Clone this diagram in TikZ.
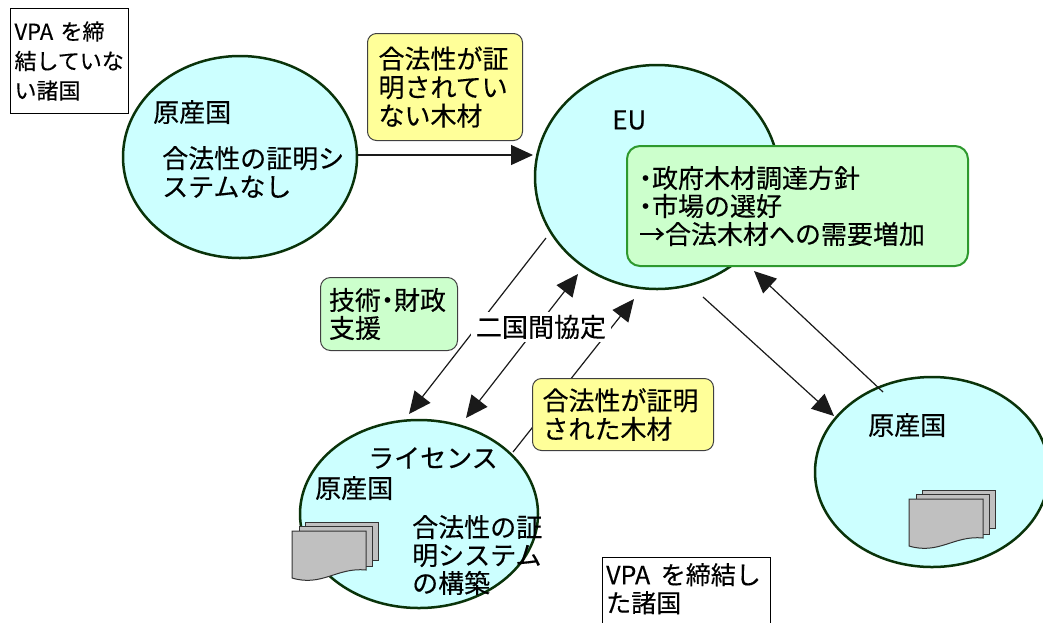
\documentclass[tikz,border=0pt]{standalone}
\usepackage{fontspec}
\setmainfont{Noto Sans CJK JP}[FakeBold=0.3]
\usetikzlibrary{shapes.geometric,arrows.meta}
\definecolor{ellfill}{HTML}{CCFFFF}
\definecolor{ellborder}{HTML}{0A330A}
\definecolor{yfill}{HTML}{FFFF99}
\definecolor{boxgray}{HTML}{404040}
\definecolor{gfill}{HTML}{CCFFCC}
\definecolor{gborder}{HTML}{2E992E}
\definecolor{arrcol}{HTML}{1A1A1A}
\definecolor{docgray}{HTML}{C0C0C0}
\definecolor{docborder}{HTML}{333333}
\tikzset{
  country/.style={ellipse, draw=ellborder, fill=ellfill, line width=2.5pt, inner sep=0pt},
  txt/.style={font=\fontsize{26pt}{28.5pt}\selectfont, inner sep=0pt, align=left},
  ybox/.style={draw=boxgray, fill=yfill, rounded corners=9pt, line width=1pt,
    font=\fontsize{26pt}{28.5pt}\selectfont, align=left, inner ysep=0pt},
  gbox/.style={draw=gborder, fill=gfill, rounded corners=13pt, line width=2pt,
    font=\fontsize{26pt}{28pt}\selectfont, align=left, inner ysep=0pt},
  tbox/.style={draw=boxgray, fill=gfill, rounded corners=10pt, line width=1pt,
    font=\fontsize{26pt}{28pt}\selectfont, align=left, inner ysep=0pt},
  plainbox/.style={draw=black, fill=white, line width=1pt},
  arr/.style={draw=arrcol, line width=1.2pt, -{Triangle[length=22pt,width=20pt]}},
  darr/.style={draw=arrcol, line width=1.2pt, {Triangle[length=22pt,width=20pt]}-{Triangle[length=22pt,width=20pt]}},
  docsheet/.style={fill=docgray, draw=docborder, line width=1pt},
  docs/.pic={
    \path[docsheet] (13,-9) rectangle (86,29);
    \path[docsheet] (7,-5) rectangle (80,35);
    \path[docsheet] (0,0) -- (74,0) -- (74,39) .. controls (45,36) and (30,56) .. (0,47) -- cycle;
  }
}
\newcommand{\ndot}{\makebox[13pt]{・}}
\begin{document}
\begin{tikzpicture}[x=1pt,y=-1pt]
\clip (0,0) rectangle (1043,622);
\fill[white] (0,0) rectangle (1043,622);

% ellipses
\node[country, minimum width=234pt, minimum height=202pt] (src) at (240,157) {};
\node[country, minimum width=244pt, minimum height=224pt] (eu) at (657,177) {};
\node[country, minimum width=238pt, minimum height=188pt] (lic) at (419,514) {};
\node[country, minimum width=234pt, minimum height=190pt] (rgt) at (932,472) {};

% arrows
\draw[arr] ([shift={(117,-2)}]src.center) -- ([shift={(-124,-22)}]eu.center);
\draw[arr] ([shift={(-111,61)}]eu.center) -- ([shift={(-10,-100)}]lic.center);
\draw[darr] ([shift={(47,-96)}]lic.center) -- ([shift={(-79,97)}]eu.center);
\draw[arr] ([shift={(94,-62)}]lic.center) -- ([shift={(-23,122)}]eu.center);
\draw[arr] ([shift={(46,120)}]eu.center) -- ([shift={(-98,-56)}]rgt.center);
\draw[arr] ([shift={(-49,-80)}]rgt.center) -- ([shift={(97,94)}]eu.center);

% boxes
\node[plainbox, anchor=north west, minimum width=118pt, minimum height=105pt,
  text width=110pt, inner xsep=4pt, inner ysep=0pt, align=left,
  font=\fontsize{22pt}{29.5pt}\selectfont] (vpa1) at (10,8) {VPA を締\\結していな\\い諸国};
\node[ybox, anchor=north west, minimum width=155pt, minimum height=107pt,
  text width=133pt, inner xsep=11pt] (ill) at (367,33) {合法性が証\\明されてい\\ない木材};
\node[gbox, anchor=north west, minimum width=341pt, minimum height=120pt,
  text width=317pt, inner xsep=12pt] (eubox) at (626,145)
  {\ndot 政府木材調達方針\\\ndot 市場の選好\\→合法木材への需要増加};
\node[tbox, anchor=north west, minimum width=137pt, minimum height=73pt,
  text width=120pt, inner xsep=8.5pt] (tech) at (320,277) {技術\ndot 財政\\支援};
\node[ybox, anchor=north west, minimum width=181pt, minimum height=72pt,
  text width=161pt, inner xsep=10pt] (leg) at (532,378) {合法性が証明\\された木材};
\node[fill=white, font=\fontsize{26pt}{28pt}\selectfont, inner xsep=5pt, inner ysep=3pt] (bil) at (541,327) {二国間協定};
\node[plainbox, anchor=north west, minimum width=168pt, minimum height=90pt] (vpa2) at (602,557) {};
\node[txt, anchor=north west, font=\fontsize{25pt}{28pt}\selectfont] (vpa2t) at (606,563) {VPA\hspace{5pt} を締結し\\た諸国};

% texts in ellipses
\node[txt, anchor=west] (srct1) at (153,112) {原産国};
\node[txt, anchor=west] (srct2) at (162,172) {合法性の証明シ\\ステムなし};
\node[txt, anchor=west] (eut) at (612,120) {EU};
\node[txt, anchor=west] (lict1) at (368,458) {ライセンス};
\node[txt, anchor=west] (lict2) at (315,488) {原産国};
\node[txt, anchor=west, font=\fontsize{26pt}{28pt}\selectfont] (lict3) at (412,555) {合法性の証\\明システム\\の構築};
\node[txt, anchor=west] (rgtt) at (868,425) {原産国};

% document icons
\pic at (292,531) {docs};
\pic at (909,499) {docs};
\end{tikzpicture}
\end{document}
